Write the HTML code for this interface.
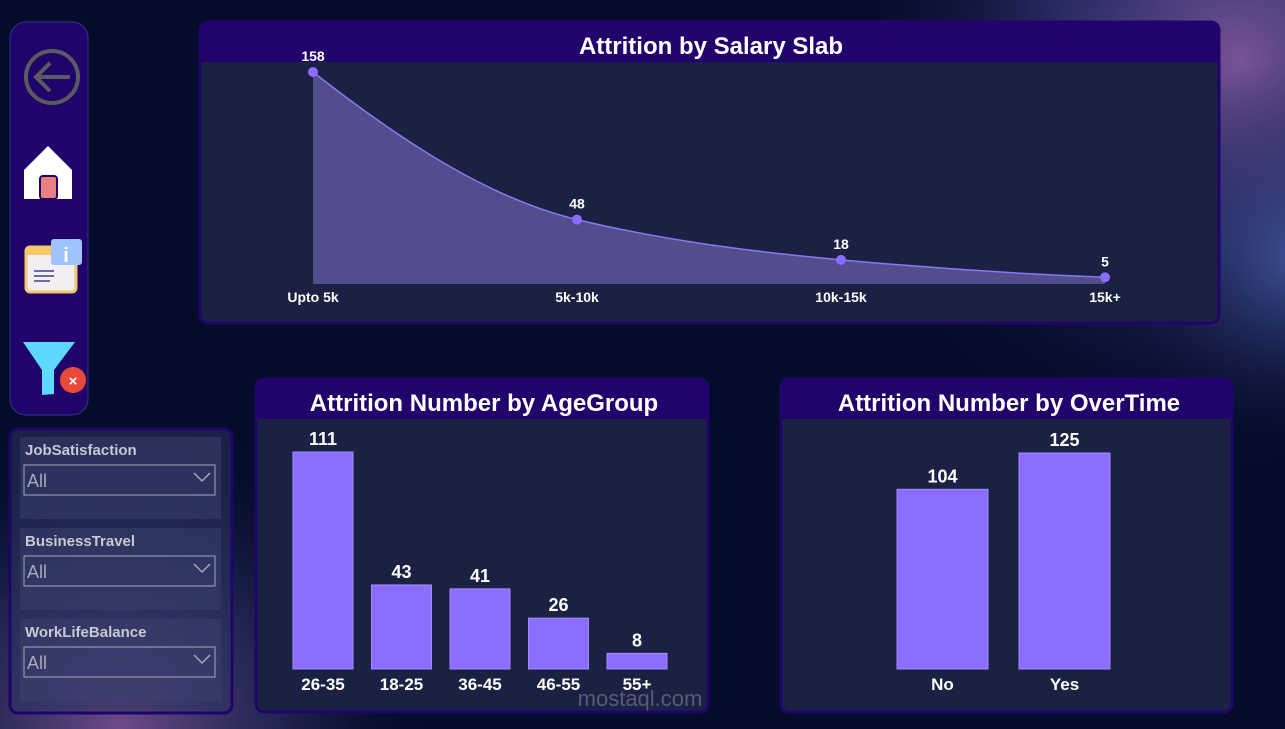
<!DOCTYPE html>
<html><head><meta charset="utf-8"><style>
html,body{margin:0;padding:0;width:1285px;height:729px;overflow:hidden;background:#050b2a;}
svg text{font-family:"Liberation Sans",sans-serif;font-weight:bold;}
</style></head><body>
<svg id="s" width="1285" height="729" viewBox="0 0 1285 729" xmlns="http://www.w3.org/2000/svg">
<defs>
<radialGradient id="g1" cx="1240" cy="60" r="420" gradientUnits="userSpaceOnUse"><stop offset="0" stop-color="#8a5fa8" stop-opacity="0.85"/><stop offset="0.45" stop-color="#4a4a9a" stop-opacity="0.5"/><stop offset="1" stop-color="#050b2a" stop-opacity="0"/></radialGradient>
<radialGradient id="g3" cx="1300" cy="260" r="200" gradientUnits="userSpaceOnUse"><stop offset="0" stop-color="#4a64b0" stop-opacity="0.7"/><stop offset="1" stop-color="#050b2a" stop-opacity="0"/></radialGradient>
<radialGradient id="g2" cx="120" cy="729" r="320" gradientUnits="userSpaceOnUse"><stop offset="0" stop-color="#8a5aa0" stop-opacity="0.8"/><stop offset="0.5" stop-color="#4a4a8a" stop-opacity="0.4"/><stop offset="1" stop-color="#050b2a" stop-opacity="0"/></radialGradient>
</defs>
<rect width="1285" height="729" fill="#050b2a"/>
<rect width="1285" height="729" fill="url(#g1)"/>
<rect width="1285" height="729" fill="url(#g3)"/>
<rect width="1285" height="729" fill="url(#g2)"/>

<!-- sidebar -->
<rect x="10" y="22" width="78" height="393" rx="16" fill="#20046a" stroke="#2a3a8a" stroke-width="1"/>
<g><circle cx="52" cy="77" r="26" fill="none" stroke="#5a5a60" stroke-width="4"/><path d="M70 77 H36 M50 63 L36 77 L50 91" fill="none" stroke="#5a5a60" stroke-width="4"/></g>
<g><path d="M24 170 L48 146 L72 170 V199 H24 Z" fill="#fff"/><rect x="40" y="176" width="17" height="23" rx="3" fill="#e88080" stroke="#20046a" stroke-width="2"/></g>
<g><rect x="26" y="247" width="50" height="45" rx="4" fill="#f2eef2" stroke="#f5c96a" stroke-width="3"/><rect x="26" y="247" width="50" height="8" fill="#f5c96a"/><rect x="51" y="239" width="31" height="26" rx="3" fill="#9fc4ff"/><text x="66" y="262" font-size="20" fill="#fff" text-anchor="middle">i</text><path d="M34 271 H54 M34 276 H54 M34 281 H50" stroke="#6a6aa0" stroke-width="2"/></g>
<g><path d="M23 342 H75 L54 370 V394 L42 395 V370 Z" fill="#5fd8ff"/><circle cx="73" cy="380" r="13" fill="#e84a3a"/><text x="73" y="386" font-size="15" fill="#fff" text-anchor="middle">×</text></g>

<!-- slicers panel -->
<rect x="10" y="429" width="222" height="284" rx="8" fill="#2b3563" fill-opacity="0.55" stroke="#20046a" stroke-width="3"/>
<g id="slicers"></g>

<!-- top panel -->
<g>
<rect x="200" y="22" width="1019" height="301" rx="8" fill="#1b2142" stroke="#22036c" stroke-width="3"/>
<path d="M200 30 Q200 22 208 22 H1211 Q1219 22 1219 30 V62 H200 Z" fill="#22036c"/>
<text x="711" y="54" font-size="24" fill="#fff" text-anchor="middle">Attrition by Salary Slab</text>
</g>
<g id="area"></g>

<!-- age panel -->
<g>
<rect x="256" y="379" width="452" height="333" rx="8" fill="#1b2142" stroke="#22036c" stroke-width="3"/>
<path d="M256 387 Q256 379 264 379 H700 Q708 379 708 387 V419 H256 Z" fill="#22036c"/>
<text x="484" y="411" font-size="24" fill="#fff" text-anchor="middle">Attrition Number by AgeGroup</text>
</g>
<g id="age"></g>

<!-- overtime panel -->
<g>
<rect x="781" y="379" width="451" height="333" rx="8" fill="#1b2142" stroke="#22036c" stroke-width="3"/>
<path d="M781 387 Q781 379 789 379 H1224 Q1232 379 1232 387 V419 H781 Z" fill="#22036c"/>
<text x="1009" y="411" font-size="24" fill="#fff" text-anchor="middle">Attrition Number by OverTime</text>
</g>
<g id="ot"></g>
<text x="640" y="706" font-size="22" fill="#c8c8d8" fill-opacity="0.35" text-anchor="middle" style="font-weight:normal">mostaql.com</text>
</svg>
<script>
const salaryCats=["Upto 5k","5k-10k","10k-15k","15k+"];
const salaryVals=[158,48,18,5];
const ageCats=["26-35","18-25","36-45","46-55","55+"];
const ageVals=[111,43,41,26,8];
const otCats=["No","Yes"];
const otVals=[104,125];
const slicerNames=["JobSatisfaction","BusinessTravel","WorkLifeBalance"];
const slicerValues=["All","All","All"];

const NS="http://www.w3.org/2000/svg";
function mk(p,t,a,txt){const e=document.createElementNS(NS,t);for(const k in a)e.setAttribute(k,a[k]);if(txt!==undefined)e.textContent=txt;p.appendChild(e);return e;}

const sl=document.getElementById('slicers');
slicerNames.forEach((n,i)=>{
  const y=437+i*91;
  const g=mk(sl,'g',{});
  
  
  mk(g,'rect',{x:20,y:y,width:201,height:82,fill:'#3a4270','fill-opacity':0.5});
  const t=mk(g,'text',{x:25,y:y+18,'font-size':15,fill:'#c8c8d0'},n);
  
  
  mk(g,'rect',{x:24,y:y+28,width:191,height:30,fill:'none',stroke:'#a8a8b8','stroke-width':1});
  const v=mk(g,'text',{x:27,y:y+50,'font-size':18,fill:'#a8a8b8',style:'font-weight:normal'},slicerValues[i]);
  
  
  mk(g,'path',{d:`M194 ${y+36} L202 ${y+44} L210 ${y+36}`,fill:'none',stroke:'#a8a8b8','stroke-width':1.5});
});

const ar=document.getElementById('area');
const ax0=313,ax1=1105,base=284,ppu=212/158;
const sx=i=>ax0+i*(ax1-ax0)/(salaryVals.length-1);
const sy=v=>base-v*ppu;
const pts=salaryVals.map((v,i)=>[sx(i),sy(v)]);
const n=pts.length,d=[],m=[];
for(let i=0;i<n-1;i++)d.push((pts[i+1][1]-pts[i][1])/(pts[i+1][0]-pts[i][0]));
m[0]=d[0]*1.4;m[n-1]=d[n-2]*0.6;
for(let i=1;i<n-1;i++)m[i]=d[i-1]*d[i]<=0?0:2/(1/d[i-1]+1/d[i]);
let path=`M${pts[0][0]},${pts[0][1]}`;
for(let i=0;i<n-1;i++){const h=(pts[i+1][0]-pts[i][0])/3;path+=` C${pts[i][0]+h},${pts[i][1]+m[i]*h} ${pts[i+1][0]-h},${pts[i+1][1]-m[i+1]*h} ${pts[i+1][0]},${pts[i+1][1]}`;}
const fill=mk(ar,'path',{d:path+` L${pts[n-1][0]},${base} L${pts[0][0]},${base} Z`,fill:'#524d8c'});


const ln=mk(ar,'path',{d:path,fill:'none',stroke:'#8a78f0','stroke-width':1.5});


salaryVals.forEach((v,i)=>{
  const c=mk(ar,'circle',{cx:sx(i),cy:sy(v),r:5,fill:'#8a6cff'});
  
  
  const t=mk(ar,'text',{x:sx(i),y:sy(v)-11,'font-size':14,fill:'#fff','text-anchor':'middle'},v);
  
  
  const c2=mk(ar,'text',{x:sx(i),y:302,'font-size':14,fill:'#fff','text-anchor':'middle'},salaryCats[i]);
  
  
});

function bars(id,cats,vals,x0,step,w,ppu,prefix){
  const g=document.getElementById(id),b=669;
  vals.forEach((v,i)=>{
    const x=x0+i*step,h=v*ppu;
    const r=mk(g,'rect',{x:x,y:b-h,width:w,height:h,fill:'#8b6eff',stroke:'#a08cff','stroke-width':1});
    
    
    const t=mk(g,'text',{x:x+w/2,y:b-h-7,'font-size':18,fill:'#fff','text-anchor':'middle'},v);
    
    
    const c=mk(g,'text',{x:x+w/2,y:690,'font-size':17,fill:'#fff','text-anchor':'middle'},cats[i]);
    
    
  });
}
bars('age',ageCats,ageVals,293,78.5,60,217/111,'age');
bars('ot',otCats,otVals,897,122,91,216/125,'overtime');
</script>
</body></html>
